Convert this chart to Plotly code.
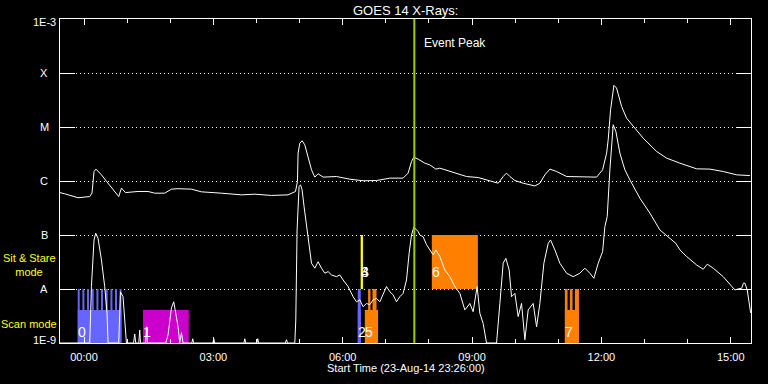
import math
import plotly.graph_objects as go

# ---------------- data (time in hours from 24-Aug-14 00:00 UT, flux in W/m^2) -------------
t_long = [-0.564, -0.448, -0.139, 0.132, 0.186, 0.232, 0.278, 0.404, 0.557, 0.712, 0.805, 0.868,
          0.961, 1.253, 1.485, 1.640, 1.872, 2.028, 2.181, 2.492, 2.724, 3.188, 3.652, 3.961,
          4.348, 4.733, 4.905, 4.951, 4.965, 5.005, 5.058, 5.121, 5.197, 5.276, 5.353, 5.429,
          5.545, 5.856, 6.165, 6.473, 6.784, 7.093, 7.401, 7.517, 7.596, 7.650, 7.749, 7.905,
          8.021, 8.160, 8.253, 8.561, 8.872, 9.142, 9.336, 9.606, 9.722, 9.800, 9.877, 9.993,
          10.186, 10.457, 10.573, 10.689, 10.805, 10.961, 11.193, 11.425, 11.810, 11.889, 11.965,
          12.028, 12.121, 12.158, 12.213, 12.290, 12.352, 12.469, 12.584, 12.738, 12.970, 13.281,
          13.513, 13.821, 14.209, 14.517, 14.826, 15.137, 15.445]
f_long = [6.1e-7, 5.8e-7, 4.9e-7, 5.15e-7, 6.0e-7, 1.50e-6, 1.66e-6, 1.30e-6, 9.1e-7, 6.4e-7,
          5.15e-7, 7.4e-7, 6.1e-7, 6.4e-7, 6.4e-7, 5.95e-7, 5.95e-7, 7.06e-7, 7.2e-7, 7.06e-7,
          6.3e-7, 5.95e-7, 5.54e-7, 5.7e-7, 5.4e-7, 5.54e-7, 6.4e-7, 9.8e-7, 3.28e-6, 5.0e-6,
          5.55e-6, 4.68e-6, 2.84e-6, 1.61e-6, 1.18e-6, 1.36e-6, 1.18e-6, 1.21e-6, 1.08e-6,
          1.01e-6, 1.02e-6, 1.13e-6, 1.13e-6, 1.40e-6, 2.30e-6, 2.77e-6, 2.54e-6, 2.14e-6,
          1.99e-6, 1.66e-6, 1.73e-6, 1.43e-6, 1.21e-6, 1.16e-6, 1.05e-6, 9.1e-7, 1.21e-6,
          1.40e-6, 1.21e-6, 1.02e-6, 9.1e-7, 8.1e-7, 9.1e-7, 1.30e-6, 1.66e-6, 1.50e-6, 1.21e-6,
          1.21e-6, 1.21e-6, 1.18e-6, 1.40e-6, 1.61e-6, 3.28e-6, 5.8e-6, 2.08e-5, 5.9e-5, 5.26e-5,
          2.40e-5, 1.46e-5, 1.02e-5, 6.2e-6, 3.52e-6, 2.65e-6, 2.14e-6, 1.68e-6, 1.66e-6,
          1.50e-6, 1.30e-6, 1.26e-6]

t_short = [-0.564, 0.132, 0.172, 0.232, 0.271, 0.325, 0.404, 0.480, 0.534, 0.557, 0.805, 0.845,
           0.905, 0.944, 0.984, 1.150, 1.176, 1.200, 1.270, 1.292, 1.310, 1.430, 1.448, 1.470,
           1.896, 1.949, 2.028, 2.081, 2.144, 2.181, 2.220, 2.260, 2.297, 2.500, 2.522, 2.540,
           2.990, 3.009, 3.030, 3.710, 3.729, 3.750, 4.010, 4.030, 4.050, 4.670, 4.696, 4.720,
           4.889, 4.912, 4.942, 4.988, 5.021, 5.058, 5.104, 5.160, 5.220, 5.276, 5.353, 5.429,
           5.508, 5.585, 5.661, 5.740, 5.856, 5.933, 6.009, 6.125, 6.241, 6.320, 6.397, 6.473,
           6.552, 6.628, 6.705, 6.784, 6.861, 6.937, 7.016, 7.093, 7.169, 7.248, 7.325, 7.401,
           7.480, 7.541, 7.596, 7.650, 7.749, 7.789, 7.865, 7.944, 8.097, 8.160, 8.253, 8.369,
           8.485, 8.601, 8.717, 8.833, 8.949, 9.025, 9.118, 9.181, 9.258, 9.336, 9.568, 9.645,
           9.722, 9.784, 9.861, 9.916, 9.993, 10.070, 10.148, 10.225, 10.302, 10.418, 10.497,
           10.573, 10.666, 10.766, 10.821, 10.921, 11.037, 11.193, 11.346, 11.501, 11.617,
           11.733, 11.826, 11.926, 12.028, 12.081, 12.135, 12.197, 12.274, 12.336, 12.429,
           12.545, 12.661, 12.893, 13.125, 13.357, 13.589, 13.728, 13.821, 13.976, 14.209,
           14.362, 14.455, 14.594, 14.826, 14.981, 15.097, 15.167, 15.253, 15.295, 15.329,
           15.383, 15.430, 15.462]
f_short = [1e-9, 1e-9, 1.11e-8, 8.1e-8, 1.08e-7, 8.7e-8, 3.46e-8, 1.11e-8, 3.6e-9, 1e-9, 1e-9,
           8.9e-9, 7.2e-9, 2.67e-9, 1e-9, 1e-9, 1.47e-9, 1e-9, 1e-9, 1.74e-9, 1e-9, 1e-9, 2.0e-9,
           1e-9, 1e-9, 1.42e-9, 4.46e-9, 5.8e-9, 3.08e-9, 2.0e-9, 1e-9, 1.55e-9, 1e-9, 1e-9,
           1.2e-9, 1e-9, 1e-9, 1.2e-9, 1e-9, 1e-9, 1.2e-9, 1e-9, 1e-9, 1.2e-9, 1e-9, 1e-9,
           1.15e-9, 1e-9, 1e-9, 2.67e-9, 1.24e-7, 7.9e-7, 8.5e-7, 6.9e-7, 3.36e-7, 1.43e-7,
           6.1e-8, 3.0e-8, 2.43e-8, 3.2e-8, 2.43e-8, 1.96e-8, 2.1e-8, 1.82e-8, 1.69e-8, 1.82e-8,
           1.47e-8, 1.11e-8, 7.2e-9, 5.8e-9, 6.3e-9, 4.7e-9, 5.4e-9, 5.1e-9, 6.3e-9, 6.7e-9,
           5.8e-9, 8.3e-9, 1.11e-8, 8.9e-9, 7.8e-9, 5.8e-9, 7.2e-9, 8.3e-9, 1.47e-8, 4.6e-8,
           1.0e-7, 1.40e-7, 1.16e-7, 1.0e-7, 9.3e-8, 6.6e-8, 4.3e-8, 5.3e-8, 4.0e-8, 2.25e-8,
           1.69e-8, 1.11e-8, 8.3e-9, 4.1e-9, 5.4e-9, 3.8e-9, 1.11e-8, 3.55e-9, 2.3e-9, 1e-9,
           1e-9, 5.4e-9, 3.0e-8, 3.7e-8, 2.25e-8, 7.2e-9, 8.3e-9, 3.08e-9, 5.4e-9, 1.15e-9,
           4.1e-9, 5.4e-9, 2.0e-9, 5.4e-9, 3.0e-8, 7.0e-8, 8.1e-8, 5.3e-8, 3.0e-8, 1.96e-8,
           1.69e-8, 1.96e-8, 2.43e-8, 1.96e-8, 1.58e-8, 3.0e-8, 4.9e-8, 1.43e-7, 2.19e-7,
           1.61e-6, 1.10e-5, 8.3e-6, 3.28e-6, 1.61e-6, 1.05e-6, 4.8e-7, 2.54e-7, 1.24e-7,
           8.7e-8, 7.0e-8, 5.3e-8, 4.0e-8, 2.79e-8, 2.32e-8, 2.88e-8, 2.43e-8, 1.69e-8, 1.19e-8,
           9.6e-9, 1.0e-8, 1.03e-8, 1.28e-8, 1.28e-8, 9.6e-9, 4.7e-9, 3.6e-9]

x_tick_vals = [0, 3, 6, 9, 12, 15]
x_tick_text = ["00:00", "03:00", "06:00", "09:00", "12:00", "15:00"]
y_tick_vals = [1e-9, 1e-8, 1e-7, 1e-6, 1e-5, 1e-4, 1e-3]
y_tick_text = ["1E-9", "A", "B", "C", "M", "X", "1E-3"]

obs_labels = ["0", "1", "2", "3", "4", "5", "6", "7"]
obs_start = [-0.146, 1.369, 6.350, 6.420, 6.420, 6.513, 8.067, 11.153]
obs_end = [0.868, 2.429, 6.419, 6.466, 6.466, 6.821, 9.135, 11.479]
obs_mode = ["scan", "scan", "scan", "sit", "sit", "scan", "sit", "scan"]
obs_color = ["#6666ff", "#cc00cc", "#6666ff", "#ffff00", "#ffff00", "#ff8000", "#ff8000", "#ff8000"]
obs_rasters = [
    [[-0.146, -0.100], [-0.037, 0.009], [0.070, 0.116], [0.179, 0.225], [0.288, 0.334],
     [0.394, 0.440], [0.503, 0.549], [0.613, 0.659], [0.719, 0.765], [0.828, 0.868]],
    [],
    [[6.350, 6.419]],
    [], [],
    [[6.589, 6.645], [6.691, 6.784]],
    [],
    [[11.153, 11.215], [11.269, 11.331], [11.385, 11.479]],
]
event_peak_time = 7.661

X_RANGE = [-0.557, 15.47]
FLOOR, SCAN_BODY_TOP, SCAN_TOP, SIT_TOP = 1e-9, 4.1e-9, 1e-8, 1e-7

# ---------------- layout helpers ----------------
W, H = 768, 384
L, R, T, B = 60, 17, 19, 41
PW, PH = W - L - R, H - T - B
def px(x):  # pixel x -> paper
    return (x - L) / PW
def py(y):  # pixel y -> paper
    return (H - B - y) / PH

FONT = "Liberation Sans"
fig = go.Figure()

def rect(x0, x1, y0, y1, color):
    fig.add_trace(go.Scatter(x=[x0, x1, x1, x0, x0], y=[y0, y0, y1, y1, y0], mode="lines",
                             fill="toself", fillcolor=color, line=dict(width=0, color=color),
                             hoverinfo="skip", showlegend=False))

for lab, s, e, mode, col, ras in zip(obs_labels, obs_start, obs_end, obs_mode, obs_color, obs_rasters):
    if mode == "scan":
        rect(s, e, FLOOR, SCAN_BODY_TOP, col)
        for r0, r1 in ras:
            rect(r0, r1, FLOOR, SCAN_TOP, col)
    else:
        rect(s, e, SCAN_TOP, SIT_TOP, col)

fig.add_trace(go.Scatter(x=t_long, y=f_long, mode="lines", line=dict(color="white", width=1),
                         showlegend=False, hoverinfo="skip"))
fig.add_trace(go.Scatter(x=t_short, y=f_short, mode="lines", line=dict(color="white", width=1),
                         showlegend=False, hoverinfo="skip"))
fig.add_trace(go.Scatter(x=[event_peak_time, event_peak_time], y=[1e-9, 1e-3], mode="lines",
                         line=dict(color="#9acd00", width=2), showlegend=False, hoverinfo="skip"))

ann = []
for v, t in zip(y_tick_vals, y_tick_text):
    shift = -3 if t == "1E-3" else (3 if t == "1E-9" else 0)
    ann.append(dict(text=t, xref="paper", x=px(44), yref="y", y=math.log10(v), xanchor="center",
                    yanchor="middle", yshift=shift, showarrow=False,
                    font=dict(color="white", size=11, family=FONT)))
for lab, s, mode in zip(obs_labels, obs_start, obs_mode):
    ann.append(dict(text=lab, xref="x", x=s, yref="paper", y=py(332 if mode == "scan" else 272),
                    xanchor="left", yanchor="middle", xshift=-2, showarrow=False,
                    font=dict(color="white", size=14, family=FONT)))
ann += [
    dict(text="GOES 14 X-Rays:", xref="paper", x=0.5, yref="paper", y=py(10), xanchor="center",
         yanchor="middle", showarrow=False, font=dict(color="white", size=13, family=FONT)),
    dict(text="Event Peak", xref="x", x=event_peak_time, yref="paper", y=py(43), xanchor="left",
         yanchor="middle", xshift=8, showarrow=False, font=dict(color="white", size=12, family=FONT)),
    dict(text="Start Time (23-Aug-14 23:26:00)", xref="paper", x=0.5, yref="paper", y=py(368),
         xanchor="center", yanchor="middle", showarrow=False,
         font=dict(color="white", size=11, family=FONT)),
    dict(text="Sit &amp; Stare<br>&nbsp;&nbsp;&nbsp;&nbsp;mode", xref="paper", x=px(1),
         yref="paper", y=py(265), xanchor="left", yanchor="middle", align="left",
         showarrow=False, font=dict(color="#ffff00", size=11, family=FONT)),
    dict(text="Scan mode", xref="paper", x=px(28.5), yref="paper", y=py(324), xanchor="center",
         yanchor="middle", showarrow=False, font=dict(color="#ffff00", size=11, family=FONT)),
]

fig.update_layout(
    width=W, height=H, margin=dict(l=L, r=R, t=T, b=B, pad=0),
    paper_bgcolor="black", plot_bgcolor="black", template="none",
    font=dict(family=FONT, color="white", size=11),
    annotations=ann, showlegend=False,
    xaxis=dict(range=X_RANGE, tickvals=x_tick_vals, ticktext=x_tick_text, ticks="inside",
               ticklen=6, tickcolor="white", tickwidth=1, showline=True, linecolor="white",
               linewidth=1, mirror="ticks", showgrid=False, zeroline=False,
               ticklabelstandoff=4,
               tickfont=dict(color="white", size=11, family=FONT),
               minor=dict(dtick=1, tick0=0, ticks="inside", ticklen=4, tickcolor="white",
                          showgrid=False)),
    yaxis=dict(type="log", range=[-9, -3], tickvals=y_tick_vals, showticklabels=False,
               ticks="inside", ticklen=15, tickcolor="white", tickwidth=1, showline=True,
               linecolor="white", linewidth=1, mirror="ticks", showgrid=True,
               gridcolor="white", gridwidth=1, griddash="1px,3px", zeroline=False),
)

fig.write_html("out.html")
